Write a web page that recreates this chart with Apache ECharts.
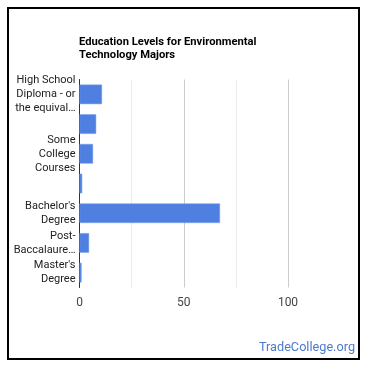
<!DOCTYPE html>
<html>
<head>
<meta charset="utf-8">
<script src="https://cdn.jsdelivr.net/npm/echarts@6/dist/echarts.min.js"></script>
<style>html,body{margin:0;padding:0;background:#fff;}#c{width:370px;height:370px;}</style>
</head>
<body>
<div id="c"></div>
<script>
var categories = [
  "High School\nDiploma - or\nthe equival…",
  "Post-Secondary Certificate",
  "Some\nCollege\nCourses",
  "Associate's Degree",
  "Bachelor's\nDegree",
  "Post-\nBaccalaure…",
  "Master's\nDegree"
];
var values = [10.8, 8.0, 6.5, 1.3, 67.4, 4.6, 1.0];
var hiddenLabels = [1, 3];
var titleText = "Education Levels for Environmental\nTechnology Majors";
var watermark = "TradeCollege.org";

var chart = echarts.init(document.getElementById('c'), null, {renderer: 'canvas'});
chart.setOption({
  animation: false,
  backgroundColor: '#fff',
  title: {
    text: titleText,
    left: 79, top: 36, padding: 0,
    textStyle: {fontFamily: 'Roboto', fontSize: 11.2, fontWeight: 'bold', color: '#000', lineHeight: 13}
  },
  grid: {left: 79.5, right: 82, top: 79.5, bottom: 82.5, containLabel: false},
  xAxis: {
    type: 'value', min: 0, max: 100, interval: 50,
    axisLine: {show: false}, axisTick: {show: false},
    axisLabel: {color: '#444', fontFamily: 'Roboto', fontSize: 12, margin: 9},
    splitLine: {lineStyle: {color: '#cccccc', width: 1}},
    minorTick: {show: false, splitNumber: 2},
    minorSplitLine: {show: true, lineStyle: {color: '#ebebeb', width: 1}}
  },
  yAxis: {
    type: 'category', data: categories, inverse: true,
    axisLine: {show: true, lineStyle: {color: '#333', width: 1}},
    axisTick: {show: false},
    axisLabel: {
      color: '#222', fontFamily: 'Roboto', fontSize: 11, lineHeight: 14, margin: 4,
      interval: function (i) { return hiddenLabels.indexOf(i) < 0; }
    }
  },
  series: [{
    type: 'bar', data: values, barCategoryGap: '34%',
    itemStyle: {color: '#4f80e1', borderColor: '#7aa0ec', borderWidth: 0.5},
    z: 3
  }],
  graphic: [
    {type: 'rect', shape: {x: 8, y: 8, width: 351, height: 351}, style: {fill: 'none', stroke: '#000', lineWidth: 2}, z: 10},
    {type: 'text', x: 355, y: 348, style: {text: watermark, fill: '#4a7bd0', font: '12.7px Roboto', textAlign: 'right', textVerticalAlign: 'middle'}, z: 10}
  ]
});
</script>
</body>
</html>
